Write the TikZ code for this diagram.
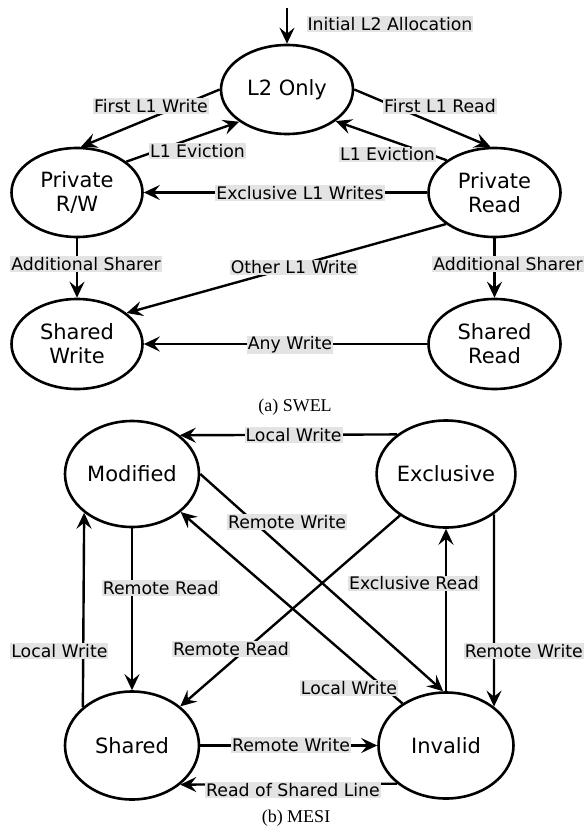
\documentclass[tikz,border=0pt]{standalone}
\usepackage{fontspec}
\setmainfont{DejaVu Sans}
\newfontfamily\capfont{Liberation Serif}
\usetikzlibrary{shapes.geometric,arrows.meta}
\definecolor{lblgray}{rgb}{0.89,0.89,0.89}
\begin{document}
\begin{tikzpicture}[x=1pt,y=-1pt,
 state/.style={ellipse,draw,line width=2.6pt,inner sep=0pt,align=center,font=\fontsize{21}{24}\selectfont},
 lbl/.style={fill=lblgray,inner sep=1pt,font=\fontsize{17.3}{20}\selectfont},
 conn/.style={line width=2.4pt,-{Stealth[length=16pt,width=15pt,inset=6pt]}},
 captext/.style={font=\capfont\fontsize{18}{21}\selectfont}]
\useasboundingbox (0,0) rectangle (586,829);
% SWEL states
\node[state,minimum width=132,minimum height=89] (L2) at (287,89.5) {L2 Only};
\node[state,minimum width=131,minimum height=89] (PRW) at (77,192.5) {Private\\R/W};
\node[state,minimum width=132,minimum height=89] (PR) at (494.5,192.5) {Private\\Read};
\node[state,minimum width=131,minimum height=90] (SW) at (77,344) {Shared\\Write};
\node[state,minimum width=132,minimum height=90] (SR) at (494.5,344) {Shared\\Read};
\coordinate (init) at (287,8);
% SWEL transitions
\draw[conn] (init) -- (L2.north);
\draw[conn] (L2.west) -- (PRW.85);
\draw[conn] (PRW.32) -- (L2.214);
\draw[conn] (L2.east) -- (PR.95);
\draw[conn] (PR.146) -- (L2.327);
\draw[conn] (PR.west) -- (PRW.east);
\draw[conn] (PRW.south) -- (SW.north);
\draw[conn] (PR.213) -- (SW.32);
\draw[conn] (PR.south) -- (SR.north);
\draw[conn] (SR.west) -- (SW.east);
% SWEL labels
\node[lbl] (la1) at (390,24) {Initial L2 Allocation};
\node[lbl] (la2) at (151,106) {First L1 Write};
\node[lbl] (la3) at (197.5,151) {L1 Eviction};
\node[lbl] (la4) at (440,106) {First L1 Read};
\node[lbl] (la5) at (387.5,154.5) {L1 Eviction};
\node[lbl] (la6) at (300,193) {Exclusive L1 Writes};
\node[lbl] (la7) at (86,264) {Additional Sharer};
\node[lbl] (la8) at (294,267.5) {Other L1 Write};
\node[lbl] (la9) at (508,264) {Additional Sharer};
\node[lbl] (la10) at (290,345) {Any Write};
\node[captext] (capa) at (295,407) {(a) SWEL};
% MESI states
\node[state,minimum width=134,minimum height=106] (M) at (132,474) {Modified};
\node[state,minimum width=133,minimum height=107] (E) at (446,474) {Exclusive};
\node[state,minimum width=134,minimum height=108] (S) at (132,745.5) {Shared};
\node[state,minimum width=135,minimum height=106] (I) at (446,745.5) {Invalid};
% MESI transitions
\draw[conn] (E.141) -- (M.39);
\draw[conn] (M.east) -- (I.93);
\draw[conn] (I.136) -- (M.322);
\draw[conn] (E.222) -- (S.39);
\draw[conn] (M.south) -- (S.north);
\draw[conn] (S.142) -- (M.219);
\draw[conn] (I.north) -- (E.south);
\draw[conn] (E.320) -- (I.39);
\draw[conn] (S.east) -- (I.west);
\draw[conn] (I.218) -- (S.321);
% MESI labels
\node[lbl] (lb1) at (293.6,435) {Local Write};
\node[lbl] (lb2) at (287,522) {Remote Write};
\node[lbl] (lb3) at (160.7,588) {Remote Read};
\node[lbl] (lb4) at (414,583.5) {Exclusive Read};
\node[lbl] (lb5) at (59.4,651) {Local Write};
\node[lbl] (lb6) at (231,649) {Remote Read};
\node[lbl] (lb7) at (523.8,651) {Remote Write};
\node[lbl] (lb8) at (349,688) {Local Write};
\node[lbl] (lb9) at (291,745) {Remote Write};
\node[lbl] (lb10) at (293,790) {Read of Shared Line};
\node[captext] (capb) at (296,818) {(b) MESI};
\end{tikzpicture}
\end{document}
